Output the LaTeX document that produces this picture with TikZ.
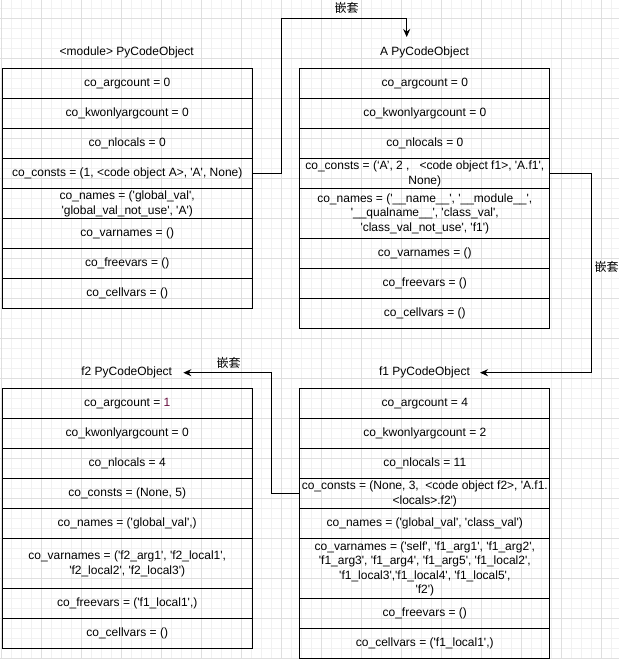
\documentclass[tikz,border=0pt]{standalone}
\usepackage{fontspec}
% plain family (no TeX ligatures) so that ' stays a straight quote
\newfontfamily\dio{Liberation Sans}
\newfontfamily\cjk{Noto Sans CJK SC}
\usetikzlibrary{arrows.meta}
\definecolor{gridminor}{HTML}{F1F1F1}
\definecolor{gridmajor}{HTML}{DFDFDF}
\definecolor{numred}{HTML}{6A1040}

\begin{document}
\begin{tikzpicture}[x=1pt,y=-1pt,
  cell/.style={draw=black, line width=1pt, minimum width=250pt, minimum height=30pt,
    anchor=north west, inner sep=0pt, align=center,
    font=\dio\fontsize{12}{14.4}\selectfont},
  title/.style={inner sep=0pt, font=\dio\fontsize{12}{14.4}\selectfont},
  tag/.style={inner sep=0pt, font=\cjk\fontsize{12}{14.4}\selectfont},
  link/.style={draw=black, line width=1pt, -{Stealth[length=8pt,width=7pt]}}]

% canvas and background grid (minor every 10, major every 40)
\fill[white] (0,0) rectangle (619,659);
\useasboundingbox (0,0) rectangle (619,659);
\foreach \i in {0,...,61} \draw[gridminor, line width=1pt] (1.7+10*\i,0) -- (1.7+10*\i,659);
\foreach \i in {0,...,65} \draw[gridminor, line width=1pt] (0,8.3+10*\i) -- (619,8.3+10*\i);
\foreach \i in {0,...,15} \draw[gridmajor, line width=1pt] (1.7+40*\i,0) -- (1.7+40*\i,659);
\foreach \i in {0,...,16} \draw[gridmajor, line width=1pt] (0,18.3+40*\i) -- (619,18.3+40*\i);

% <module> code object
\node[title] (mt) at (126.7,52.7) {<module> PyCodeObject};
\node[cell] (m1) at (1.7,68.3)  {co\_argcount = 0};
\node[cell] (m2) at (1.7,98.3)  {co\_kwonlyargcount = 0};
\node[cell] (m3) at (1.7,128.3) {co\_nlocals = 0};
\node[cell] (m4) at (1.7,158.3) {co\_consts = (1, <code object A>, 'A', None)};
\node[cell] (m5) at (1.7,188.3) {co\_names = ('global\_val',\\'global\_val\_not\_use', 'A')};
\node[cell] (m6) at (1.7,218.3) {co\_varnames = ()};
\node[cell] (m7) at (1.7,248.3) {co\_freevars = ()};
\node[cell] (m8) at (1.7,278.3) {co\_cellvars = ()};

% class A code object
\node[title] (at) at (424.5,52.7) {A PyCodeObject};
\node[cell] (a1) at (299.3,68.3)  {co\_argcount = 0};
\node[cell] (a2) at (299.3,98.3)  {co\_kwonlyargcount = 0};
\node[cell] (a3) at (299.3,128.3) {co\_nlocals = 0};
\node[cell] (a4) at (299.3,158.3) {co\_consts = (‘A’, 2 ,\ \ \ <code object f1>, 'A.f1',\\None)};
\node[cell, minimum height=50pt] (a5) at (299.3,188.3)
  {co\_names = ('\_\_name\_\_', '\_\_module\_\_',\\'\_\_qualname\_\_', 'class\_val',\\'class\_val\_not\_use', 'f1')};
\node[cell] (a6) at (299.3,238.3) {co\_varnames = ()};
\node[cell] (a7) at (299.3,268.3) {co\_freevars = ()};
\node[cell] (a8) at (299.3,298.3) {co\_cellvars = ()};

% f1 code object
\node[title] (bt) at (424.5,372.7) {f1 PyCodeObject};
\node[cell] (b1) at (299.3,388.3) {co\_argcount = 4};
\node[cell] (b2) at (299.3,418.3) {co\_kwonlyargcount = 2};
\node[cell] (b3) at (299.3,448.3) {co\_nlocals = 11};
\node[cell] (b4) at (299.3,478.3) {co\_consts = (None, 3,\ \ <code object f2>, 'A.f1.\\<locals>.f2')};
\node[cell] (b5) at (299.3,508.3) {co\_names = ('global\_val', 'class\_val')};
\node[cell, minimum height=60pt] (b6) at (299.3,538.3)
  {co\_varnames = ('self', 'f1\_arg1', 'f1\_arg2',\\'f1\_arg3', 'f1\_arg4', 'f1\_arg5', 'f1\_local2',\\'f1\_local3','f1\_local4', 'f1\_local5',\\'f2')};
\node[cell] (b7) at (299.3,598.3) {co\_freevars = ()};
\node[cell] (b8) at (299.3,628.3) {co\_cellvars = ('f1\_local1',)};

% f2 code object
\node[title] (ct) at (126.7,372.7) {f2 PyCodeObject};
\node[cell] (c1) at (1.7,388.3) {co\_argcount = \textcolor{numred}{1}};
\node[cell] (c2) at (1.7,418.3) {co\_kwonlyargcount = 0};
\node[cell] (c3) at (1.7,448.3) {co\_nlocals = 4};
\node[cell] (c4) at (1.7,478.3) {co\_consts = (None, 5)};
\node[cell] (c5) at (1.7,508.3) {co\_names = ('global\_val',)};
\node[cell, minimum height=50pt] (c6) at (1.7,538.3)
  {co\_varnames = ('f2\_arg1', 'f2\_local1',\\'f2\_local2', 'f2\_local3')};
\node[cell] (c7) at (1.7,588.3) {co\_freevars = ('f1\_local1',)};
\node[cell] (c8) at (1.7,618.3) {co\_cellvars = ()};

% nesting links
\coordinate (atip) at (406.7,37);
\coordinate (btip) at (480,372.7);
\coordinate (ctip) at (183.3,372.7);
\draw[link] (m4.east) -| (281.7,18.3) -| (atip);
\draw[link] (a4.east) -| (591,372.7) -- (btip);
\draw[link] (b4.west) -| (271.7,372.7) -- (ctip);

\node[tag] (t1) at (346.7,8.3)   {嵌套};
\node[tag] (t2) at (606.7,266.7) {嵌套};
\node[tag] (t3) at (228.7,363.3) {嵌套};
\end{tikzpicture}
\end{document}
